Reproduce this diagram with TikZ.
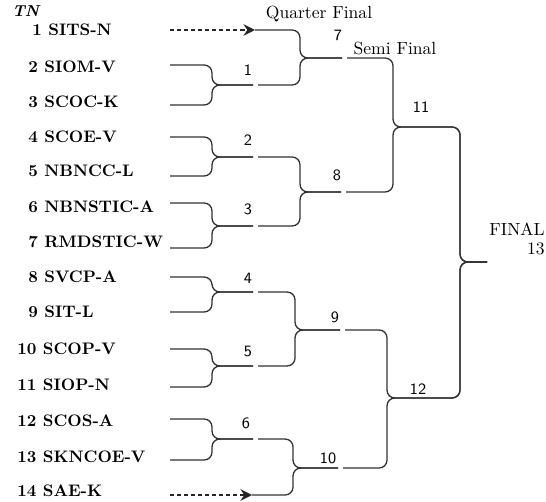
\documentclass[tikz,border=0pt]{standalone}
\usetikzlibrary{arrows.meta}
\begin{document}
\begin{tikzpicture}[
  x=0.02cm, y=-0.02cm,
  team/.style={anchor=base west,inner sep=0pt,font=\fontsize{9.5}{10}\selectfont\bfseries},
  matchno/.style={inner sep=1pt,font=\sffamily\fontsize{9}{10}\selectfont},
  stage/.style={inner sep=0pt,font=\fontsize{10}{10.5}\selectfont},
  bracket/.style={draw=black!80,line width=0.75pt,rounded corners=4.5pt},
  bye/.style={draw=black!85,line width=1.5pt,dash pattern=on 2.4pt off 1.6pt,-{Stealth[length=6.5pt,width=6.5pt]}},
]
\useasboundingbox (0,0) rectangle (546,502);

% Teams
\node[team,font=\fontsize{9}{10}\selectfont\bfseries\itshape] (tn) at (12,17) {TN};
\node[team] (t1) at (32,36) {1 SITS-N};
\node[team] (t2) at (28,73) {2 SIOM-V};
\node[team] (t3) at (28,108) {3 SCOC-K};
\node[team] (t4) at (28,143) {4 SCOE-V};
\node[team] (t5) at (28,177) {5 NBNCC-L};
\node[team] (t6) at (28,213) {6 NBNSTIC-A};
\node[team] (t7) at (28,248) {7 RMDSTIC-W};
\node[team] (t8) at (28,283) {8 SVCP-A};
\node[team] (t9) at (28,317) {9 SIT-L};
\node[team] (t10) at (17,354) {10 SCOP-V};
\node[team] (t11) at (17,390) {11 SIOP-N};
\node[team] (t12) at (17,426) {12 SCOS-A};
\node[team] (t13) at (17,462) {13 SKNCOE-V};
\node[team] (t14) at (17,496) {14 SAE-K};

% Stage titles
\node[stage] (qf) at (319,14) {Quarter Final};
\node[stage] (sf) at (395,49) {Semi Final};
\node[stage,align=right] (fin) at (517,239) {FINAL\\13};

% Match numbers
\node[matchno] (m1) at (248,70) {1};
\node[matchno] (m2) at (248,140) {2};
\node[matchno] (m3) at (248,209) {3};
\node[matchno] (m4) at (248,278) {4};
\node[matchno] (m5) at (248,352) {5};
\node[matchno] (m6) at (246,423) {6};
\node[matchno] (m7) at (338,35) {7};
\node[matchno] (m8) at (337,175) {8};
\node[matchno] (m9) at (335,317) {9};
\node[matchno] (m10) at (328,458) {10};
\node[matchno] (m11) at (421,107) {11};
\node[matchno] (m12) at (418,389) {12};

% Arm starts
\coordinate (a1) at (170,30);
\coordinate (a2) at (170,65);
\coordinate (a3) at (170,105);
\coordinate (a4) at (170,137);
\coordinate (a5) at (170,176);
\coordinate (a6) at (170,203);
\coordinate (a7) at (170,248);
\coordinate (a8) at (170,277);
\coordinate (a9) at (170,312);
\coordinate (a10) at (170,349);
\coordinate (a11) at (170,387);
\coordinate (a12) at (170,419);
\coordinate (a13) at (170,460);
\coordinate (a14) at (170,495);
\coordinate (h1) at (255,30);
\coordinate (h14) at (252,495);

% Junctions, tips and outputs
\coordinate (j1) at (212,85);  \coordinate (e1) at (253,85);  \coordinate (o1) at (258,85);
\coordinate (j2) at (212,157); \coordinate (e2) at (253,157); \coordinate (o2) at (258,157);
\coordinate (j3) at (212,226); \coordinate (e3) at (253,226); \coordinate (o3) at (258,226);
\coordinate (j4) at (212,292); \coordinate (e4) at (253,292); \coordinate (o4) at (258,292);
\coordinate (j5) at (212,366); \coordinate (e5) at (253,366); \coordinate (o5) at (258,366);
\coordinate (j6) at (212,439); \coordinate (e6) at (253,439); \coordinate (o6) at (258,439);
\coordinate (j7) at (300,58);  \coordinate (e7) at (342,58);  \coordinate (o7) at (347,58);
\coordinate (j8) at (300,192); \coordinate (e8) at (341,192); \coordinate (o8) at (346,192);
\coordinate (j9) at (295,330); \coordinate (e9) at (340,330); \coordinate (o9) at (345,330);
\coordinate (j10) at (293,468); \coordinate (e10) at (338,468); \coordinate (o10) at (343,468);
\coordinate (j11) at (393,127);
\coordinate (j12) at (387,398);
\coordinate (j13) at (460,262); \coordinate (e13) at (487,262);

% Byes
\draw[bye] (a1) -- (h1);
\draw[bye] (a14) -- (h14);

% First round
\draw[bracket] (a2) -| (j1) -- (e1);
\draw[bracket] (a3) -| (j1) -- (e1);
\draw[bracket] (a4) -| (j2) -- (e2);
\draw[bracket] (a5) -| (j2) -- (e2);
\draw[bracket] (a6) -| (j3) -- (e3);
\draw[bracket] (a7) -| (j3) -- (e3);
\draw[bracket] (a8) -| (j4) -- (e4);
\draw[bracket] (a9) -| (j4) -- (e4);
\draw[bracket] (a10) -| (j5) -- (e5);
\draw[bracket] (a11) -| (j5) -- (e5);
\draw[bracket] (a12) -| (j6) -- (e6);
\draw[bracket] (a13) -| (j6) -- (e6);

% Quarter final
\draw[bracket] (h1) -| (j7) -- (e7);
\draw[bracket] (o1) -| (j7) -- (e7);
\draw[bracket] (o2) -| (j8) -- (e8);
\draw[bracket] (o3) -| (j8) -- (e8);
\draw[bracket] (o4) -| (j9) -- (e9);
\draw[bracket] (o5) -| (j9) -- (e9);
\draw[bracket] (o6) -| (j10) -- (e10);
\draw[bracket] (h14) -| (j10) -- (e10);

% Semi final and final
\draw[bracket] (o7) -| (j11) -| (j13) -- (e13);
\draw[bracket] (o8) -| (j11) -| (j13) -- (e13);
\draw[bracket] (o9) -| (j12) -| (j13) -- (e13);
\draw[bracket] (o10) -| (j12) -| (j13) -- (e13);

\end{tikzpicture}
\end{document}
